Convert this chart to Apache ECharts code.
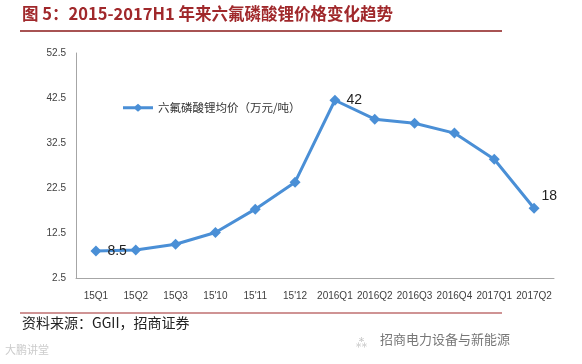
<!DOCTYPE html>
<html><head><meta charset="utf-8">
<script src="https://cdn.jsdelivr.net/npm/echarts@6/dist/echarts.min.js"></script>
<style>html,body{margin:0;padding:0;background:#fff}#c{width:582px;height:364px}</style>
</head><body><div id="c"></div>
<script>
const categories = ['15Q1','15Q2','15Q3',"15'10","15'11","15'12",'2016Q1','2016Q2','2016Q3','2016Q4','2017Q1','2017Q2'];
const prices = [8.5, 8.7, 10.0, 12.6, 17.8, 23.8, 42, 37.8, 36.9, 34.7, 28.9, 18];
const labeledIdx = {0:'8.5', 6:'42', 11:'18'};
const yTicks = [2.5, 12.5, 22.5, 32.5, 42.5, 52.5];
const seriesName = '六氟磷酸锂均价（万元/吨）';

const chart = echarts.init(document.getElementById('c'), null, {renderer:'canvas'});
const cjk = '"Noto Sans CJK SC", sans-serif';
const labelOffsets = {0:[0,0], 6:[0,0], 11:[-4,-12]};
chart.setOption({
  animation:false,
  backgroundColor:'#fff',
  grid:{left:76, right:28, top:53, bottom:86},
  legend:{
    data:[{name:seriesName, icon:'path://M0,2.6 L12,2.6 L15,0 L18,2.6 L30,2.6 L30,5.4 L18,5.4 L15,8 L12,5.4 L0,5.4 Z'}],
    left:118, top:97, itemWidth:30, itemHeight:8, itemGap:4,
    textStyle:{fontFamily:cjk, fontSize:11.5, color:'#333'}
  },
  xAxis:{
    type:'category', data:categories, boundaryGap:true,
    axisLine:{lineStyle:{color:'#a6a6a6', width:1}},
    axisTick:{show:false},
    axisLabel:{color:'#404040', fontSize:10, fontFamily:'"Liberation Sans", sans-serif', margin:13, interval:0}
  },
  yAxis:{
    type:'value', min:yTicks[0], max:yTicks[yTicks.length-1], interval:10,
    axisLine:{show:true, lineStyle:{color:'#a6a6a6', width:1}},
    axisTick:{show:false},
    splitLine:{show:false},
    axisLabel:{color:'#404040', fontSize:10, fontFamily:'"Liberation Sans", sans-serif', margin:10,
      formatter:v=>v.toFixed(1)}
  },
  series:[{
    name:seriesName, type:'line',
    data:prices.map((v,i)=>({value:v, label:{show: labeledIdx[i]!==undefined, offset: labelOffsets[i]||[0,0]}})),
    symbol:'diamond', symbolSize:11,
    lineStyle:{color:'#4a8fd6', width:3},
    itemStyle:{color:'#4a8fd6'},
    label:{position:'right', distance:6, fontSize:14, color:'#222', fontFamily:'"Liberation Sans", sans-serif',
      formatter:p=>labeledIdx[p.dataIndex]}
  }],
  graphic:[
    {type:'text', left:22, top:5, style:{text:'图 5：2015-2017H1 年来六氟磷酸锂价格变化趋势', fontFamily:cjk, fontWeight:'bold', fontSize:16.5, fill:'#a0282b'}},
    {type:'line', shape:{x1:20, y1:31, x2:502, y2:31}, style:{stroke:'#8b1a1a', lineWidth:1.5}},
    {type:'line', shape:{x1:20, y1:313, x2:502, y2:313}, style:{stroke:'#a0282b', lineWidth:1.2}},
    {type:'text', left:22, top:316, style:{text:'资料来源：GGII，招商证券', fontFamily:cjk, fontSize:14, fill:'#222'}},
    {type:'text', left:380, top:333, style:{text:'招商电力设备与新能源', fontFamily:cjk, fontSize:13, fill:'#777'}},
    {type:'text', left:355, top:336, style:{text:'⁂', fontFamily:cjk, fontSize:13, fill:'#bbb'}},
    {type:'text', left:5, top:344, style:{text:'大鹏讲堂', fontFamily:cjk, fontSize:11, fill:'#ccc'}}
  ]
});
</script></body></html>
